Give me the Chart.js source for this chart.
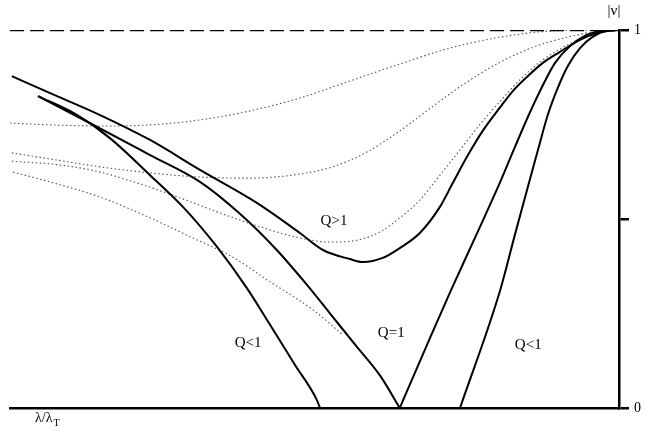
<!DOCTYPE html>
<html>
<head>
<meta charset="utf-8">
<script src="https://cdn.jsdelivr.net/npm/chart.js@4/dist/chart.umd.min.js"></script>
<style>
  html, body { margin: 0; padding: 0; background: #fff; }
  #wrap { width: 652px; height: 439px; }
</style>
</head>
<body>
<div id="wrap"><canvas id="plot"></canvas></div>
<script>
// curves as [λ/λ_T, |ν|], right axis at x = 1
const qAbove = [[0.003,0.878],[0.066,0.833],[0.148,0.775],[0.230,0.709],[0.312,0.630],[0.406,0.542],
  [0.476,0.463],[0.514,0.418],[0.558,0.394],[0.580,0.386],[0.612,0.397],[0.640,0.423],[0.673,0.463],
  [0.706,0.532],[0.727,0.595],[0.752,0.669],[0.777,0.735],[0.805,0.796],[0.826,0.839],[0.849,0.876],
  [0.875,0.913],[0.903,0.942],[0.936,0.974],[0.964,0.992],[0.995,1.0]];

// Q = 1 touches zero, so the two branches are kept apart to keep the V sharp
const qEqualLeft = [[0.046,0.825],[0.131,0.754],[0.230,0.669],[0.312,0.598],[0.378,0.513],[0.438,0.418],
  [0.488,0.325],[0.525,0.251],[0.567,0.167],[0.608,0.085],[0.640,0]];
const qEqualRight = [[0.640,0],[0.681,0.153],[0.722,0.304],[0.764,0.452],[0.805,0.598],[0.829,0.690],
  [0.854,0.783],[0.875,0.854],[0.895,0.913],[0.920,0.958],[0.947,0.987],[0.969,0.997],[0.995,1.0]];

const qBelowLeft = [[0.046,0.825],[0.107,0.778],[0.164,0.714],[0.230,0.616],[0.284,0.532],[0.340,0.426],
  [0.389,0.317],[0.427,0.220],[0.468,0.114],[0.504,0.021],[0.509,0]];
const qBelowRight = [[0.739,0],[0.805,0.312],[0.829,0.458],[0.849,0.577],[0.867,0.683],[0.883,0.775],
  [0.900,0.849],[0.916,0.905],[0.936,0.952],[0.956,0.981],[0.977,0.997],[0.995,1.0]];

// thin dotted family
const dot1 = [[0,0.754],[0.066,0.749],[0.148,0.746],[0.230,0.749],[0.312,0.762],[0.394,0.786],[0.476,0.820],
  [0.558,0.865],[0.640,0.910],[0.722,0.952],[0.805,0.981],[0.887,0.997],[0.998,1.0]];
const dot2 = [[0.003,0.675],[0.077,0.656],[0.148,0.638],[0.230,0.622],[0.312,0.611],[0.394,0.608],
  [0.476,0.619],[0.530,0.638],[0.586,0.677],[0.640,0.733],[0.695,0.799],[0.750,0.862],[0.805,0.915],
  [0.860,0.955],[0.915,0.981],[0.969,0.997],[0.998,1.0]];
const dot3 = [[0.003,0.653],[0.082,0.643],[0.148,0.624],[0.213,0.593],[0.279,0.556],[0.345,0.516],
  [0.411,0.479],[0.476,0.450],[0.525,0.439],[0.570,0.444],[0.608,0.466],[0.640,0.503],[0.673,0.550],
  [0.706,0.616],[0.739,0.683],[0.772,0.751],[0.805,0.812],[0.837,0.868],[0.875,0.921],[0.915,0.960],
  [0.952,0.987],[0.998,1.0]];
const dot4 = [[0.005,0.624],[0.066,0.598],[0.148,0.558],[0.230,0.503],[0.300,0.450],[0.366,0.399],
  [0.422,0.339],[0.498,0.259],[0.547,0.193]];

const limitLine = [[0,1],[0.998,1]];

const yTicks = [0, 0.5, 1];
const yTickLabels = {0: '0', 1: '1'};

// labels placed in data units
const notes = [
  {text: 'Q>1', x: 0.532, y: 0.495},
  {text: 'Q=1', x: 0.626, y: 0.198},
  {text: 'Q<1', x: 0.391, y: 0.172},
  {text: 'Q<1', x: 0.851, y: 0.167}
];

const pts = arr => arr.map(p => ({x: p[0], y: p[1]}));

function solid(arr) {
  return {data: pts(arr), borderColor: '#000', borderWidth: 2, pointRadius: 0,
          cubicInterpolationMode: 'monotone'};
}
function dotted(arr) {
  return {data: pts(arr), borderColor: '#555', borderWidth: 1.1, borderDash: [1.5, 2.5],
          pointRadius: 0, cubicInterpolationMode: 'monotone'};
}

const serif = '"Liberation Serif", "DejaVu Serif", serif';

const notesPlugin = {
  id: 'notes',
  afterDatasetsDraw(chart) {
    const {ctx, scales: {x, y}} = chart;
    ctx.save();
    ctx.fillStyle = '#000';
    ctx.font = '15px ' + serif;
    ctx.textAlign = 'center';
    ctx.textBaseline = 'middle';
    notes.forEach(n => ctx.fillText(n.text, x.getPixelForValue(n.x), y.getPixelForValue(n.y)));

    // |ν| above the right axis
    ctx.fillText('|ν|', x.getPixelForValue(1) - 5, y.getPixelForValue(1) - 19);

    // λ/λ_T under the left end of the bottom axis
    const bx = x.getPixelForValue(0) + 25, by = y.getPixelForValue(0) + 10;
    ctx.textAlign = 'left';
    ctx.font = '14px ' + serif;
    ctx.fillText('λ/λ', bx, by);
    const w = ctx.measureText('λ/λ').width;
    ctx.font = '10px ' + serif;
    ctx.fillText('T', bx + w + 1, by + 5);
    ctx.restore();
  }
};

new Chart(document.getElementById('plot'), {
  type: 'line',
  data: {
    datasets: [
      solid(qAbove), solid(qEqualLeft), solid(qEqualRight), solid(qBelowLeft), solid(qBelowRight),
      {data: pts(limitLine), borderColor: '#000', borderWidth: 2.5, borderDash: [14, 6], pointRadius: 0},
      dotted(dot1), dotted(dot2), dotted(dot3), dotted(dot4)
    ]
  },
  options: {
    responsive: true,
    maintainAspectRatio: false,
    animation: false,
    layout: {padding: {top: 30, left: 10, right: 0, bottom: 0}},
    plugins: {legend: {display: false}, tooltip: {enabled: false}},
    scales: {
      x: {
        type: 'linear', min: 0, max: 1,
        grid: {display: false},
        ticks: {display: false},
        border: {display: true, color: '#000', width: 2.5},
        afterFit(s) { s.height = 31; }
      },
      y: {
        type: 'linear', position: 'right', min: 0, max: 1,
        afterBuildTicks(s) { s.ticks = yTicks.map(v => ({value: v})); },
        ticks: {
          color: '#000', padding: 5,
          font: {family: serif, size: 14},
          callback: v => yTickLabels[v] || ''
        },
        grid: {drawOnChartArea: false, drawTicks: true, tickLength: 10, color: '#000', lineWidth: 2.5},
        border: {display: true, color: '#000', width: 2.5},
        afterFit(s) { s.width = 33; }
      }
    }
  },
  plugins: [notesPlugin]
});
</script>
</body>
</html>
